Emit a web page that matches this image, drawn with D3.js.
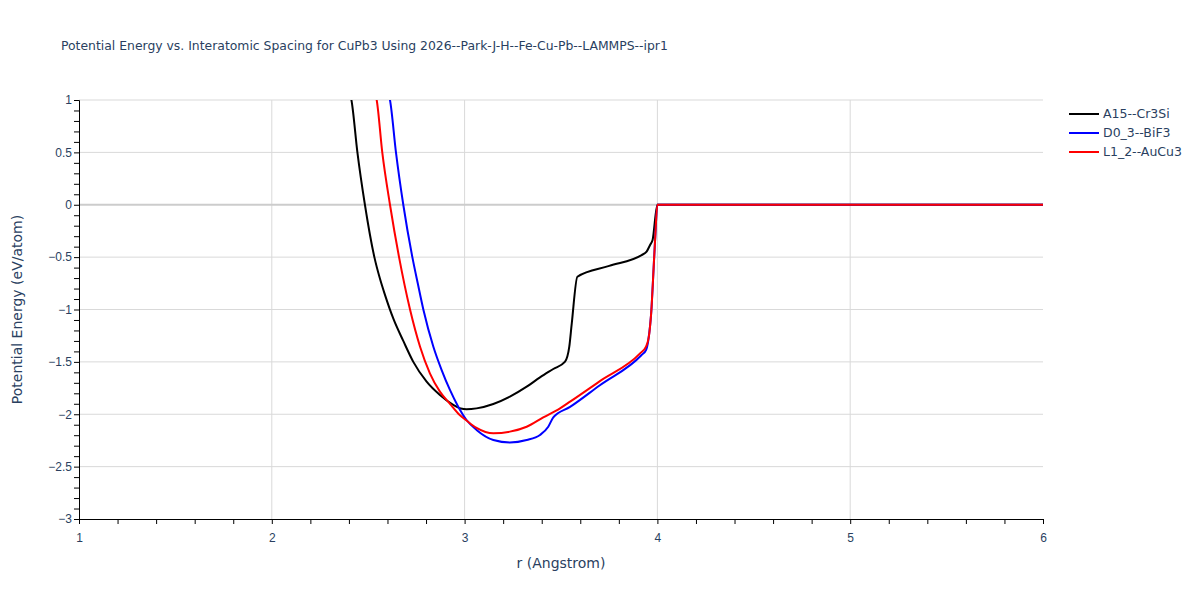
<!DOCTYPE html>
<html>
<head>
<meta charset="utf-8">
<script src="https://cdn.jsdelivr.net/npm/d3@7"></script>
<style>
  body { margin: 0; background: #fff; }
  svg { font-family: verdana, "DejaVu Sans", arial, sans-serif; }
</style>
</head>
<body>
<svg id="chart" width="1200" height="600"></svg>
<script>
// values
const seriesNames = ["A15--Cr3Si", "D0_3--BiF3", "L1_2--AuCu3"];
const seriesColors = ["#000000", "#0000ff", "#ff0000"];

const a15R = [2.40, 2.413, 2.444, 2.483, 2.532, 2.56, 2.587, 2.631, 2.682, 2.734, 2.803, 2.872, 2.941, 2.98, 3.01, 3.062, 3.149, 3.235, 3.322, 3.391, 3.46, 3.521, 3.543, 3.556, 3.585, 3.75, 3.918, 3.944, 3.962, 3.975, 4.0, 4.05, 6.0];
const a15E = [1.09, 1.0, 0.5, 0.0, -0.5, -0.70, -0.86, -1.09, -1.30, -1.5, -1.689, -1.816, -1.91, -1.945, -1.952, -1.944, -1.902, -1.832, -1.737, -1.648, -1.568, -1.498, -1.355, -1.13, -0.687, -0.584, -0.48, -0.448, -0.384, -0.337, 0.0, 0.0, 0.0];

const d03R = [2.60, 2.613, 2.644, 2.682, 2.729, 2.757, 2.786, 2.838, 2.881, 2.924, 2.967, 3.01, 3.062, 3.149, 3.235, 3.322, 3.391, 3.434, 3.46, 3.547, 3.70, 3.918, 3.941, 3.953, 3.97, 3.979, 3.988, 4.0, 4.05, 6.0];
const d03E = [1.09, 1.0, 0.5, 0.0, -0.5, -0.75, -1.0, -1.355, -1.578, -1.768, -1.928, -2.055, -2.15, -2.246, -2.27, -2.246, -2.198, -2.119, -2.03, -1.93, -1.725, -1.434, -1.387, -1.291, -0.973, -0.654, -0.337, 0.0, 0.0, 0.0];

const l12R = [2.53, 2.544, 2.573, 2.613, 2.66, 2.717, 2.769, 2.82, 2.872, 2.924, 2.976, 3.01, 3.062, 3.149, 3.235, 3.322, 3.408, 3.495, 3.547, 3.70, 3.91, 3.941, 3.958, 3.97, 3.979, 3.988, 4.0, 4.05, 6.0];
const l12E = [1.09, 1.0, 0.5, 0.0, -0.5, -1.0, -1.355, -1.609, -1.784, -1.90, -2.01, -2.06, -2.13, -2.182, -2.166, -2.119, -2.03, -1.944, -1.88, -1.686, -1.419, -1.355, -1.227, -0.973, -0.654, -0.337, 0.0, 0.0, 0.0];

const xTicks = [1, 2, 3, 4, 5, 6];
const yTicks = [1, 0.5, 0, -0.5, -1, -1.5, -2, -2.5, -3];

const series = [
  { name: seriesNames[0], color: seriesColors[0], values: a15R.map((r, i) => ({ r, e: a15E[i] })) },
  { name: seriesNames[1], color: seriesColors[1], values: d03R.map((r, i) => ({ r, e: d03E[i] })) },
  { name: seriesNames[2], color: seriesColors[2], values: l12R.map((r, i) => ({ r, e: l12E[i] })) }
];

const svg = d3.select("#chart");
const margin = { top: 100, right: 157, bottom: 81, left: 79 };
const width = 1200, height = 600;
const textColor = "#2a3f5f";

const x = d3.scaleLinear().domain([1, 6]).range([margin.left, width - margin.right]);
const y = d3.scaleLinear().domain([-3, 1]).range([height - margin.bottom, margin.top]);

// grid
svg.append("g")
  .selectAll("line")
  .data(xTicks.slice(1, -1))
  .join("line")
  .attr("x1", d => x(d)).attr("x2", d => x(d))
  .attr("y1", y(1)).attr("y2", y(-3))
  .attr("stroke", "#d9d9d9").attr("stroke-width", 1);

svg.append("g")
  .selectAll("line")
  .data(yTicks.filter(d => d !== 0 && d !== -3))
  .join("line")
  .attr("x1", x(1)).attr("x2", x(6))
  .attr("y1", d => y(d)).attr("y2", d => y(d))
  .attr("stroke", "#d9d9d9").attr("stroke-width", 1);

svg.append("line")
  .attr("x1", x(1)).attr("x2", x(6))
  .attr("y1", y(0)).attr("y2", y(0))
  .attr("stroke", "#cccccc").attr("stroke-width", 2);

// lines
svg.append("defs").append("clipPath").attr("id", "clip")
  .append("rect")
  .attr("x", x(1)).attr("y", y(1))
  .attr("width", x(6) - x(1)).attr("height", y(-3) - y(1));

const line = d3.line()
  .x(d => x(d.r))
  .y(d => y(d.e))
  .curve(d3.curveMonotoneX);

svg.append("g")
  .attr("clip-path", "url(#clip)")
  .selectAll("path")
  .data(series)
  .join("path")
  .attr("d", d => line(d.values))
  .attr("fill", "none")
  .attr("stroke", d => d.color)
  .attr("stroke-width", 2)
  .attr("stroke-linejoin", "round");

// axes
const xAxis = svg.append("g")
  .attr("transform", `translate(0,${y(-3)})`)
  .call(d3.axisBottom(x).tickValues(d3.range(1, 6.01, 0.2)).tickSize(5)
    .tickFormat(d => xTicks.some(t => Math.abs(t - d) < 1e-6) ? d3.format("d")(d) : ""));
xAxis.select(".domain").attr("stroke", "#000");
xAxis.selectAll(".tick line").attr("stroke", "#000");
xAxis.selectAll("text")
  .attr("dy", "1.25em")
  .style("font-size", "12px")
  .style("fill", textColor);

const yAxis = svg.append("g")
  .attr("transform", `translate(${x(1)},0)`)
  .call(d3.axisLeft(y).tickValues(d3.range(-30, 11, 1).map(v => v / 10)).tickSize(5)
    .tickFormat(d => yTicks.some(t => Math.abs(t - d) < 1e-6) ? d3.format("")(d).replace("-", "\u2212") : ""));
yAxis.select(".domain").attr("stroke", "#000");
yAxis.selectAll(".tick line").attr("stroke", "#000");
yAxis.selectAll("text")
  .attr("x", -7)
  .style("font-size", "12px")
  .style("fill", textColor);

// titles
svg.append("text")
  .attr("x", 61).attr("y", 50)
  .style("font-size", "12.4px")
  .style("fill", textColor)
  .text("Potential Energy vs. Interatomic Spacing for CuPb3 Using 2026--Park-J-H--Fe-Cu-Pb--LAMMPS--ipr1");

svg.append("text")
  .attr("x", (x(1) + x(6)) / 2).attr("y", 568)
  .attr("text-anchor", "middle")
  .style("font-size", "14px")
  .style("fill", textColor)
  .text("r (Angstrom)");

svg.append("text")
  .attr("transform", `translate(22,${(y(1) + y(-3)) / 2}) rotate(-90)`)
  .attr("text-anchor", "middle")
  .style("font-size", "14px")
  .style("fill", textColor)
  .text("Potential Energy (eV/atom)");

// legend
const legend = svg.append("g")
  .selectAll("g")
  .data(series)
  .join("g")
  .attr("transform", (d, i) => `translate(1069,${114 + i * 19})`);

legend.append("line")
  .attr("x1", 0).attr("x2", 30)
  .attr("stroke", d => d.color)
  .attr("stroke-width", 2);

legend.append("text")
  .attr("x", 34).attr("dy", "0.35em")
  .style("font-size", "12.5px")
  .style("fill", textColor)
  .text(d => d.name);
</script>
</body>
</html>
